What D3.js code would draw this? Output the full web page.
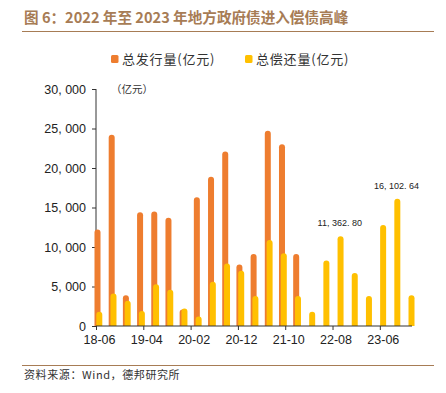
<!DOCTYPE html>
<html>
<head>
<meta charset="utf-8">
<script src="https://cdn.jsdelivr.net/npm/d3@7"></script>
<style>
body{margin:0;background:#fff;}
svg text{font-family:"Liberation Sans",Arial,sans-serif;}
.cjk{font-family:"Noto Sans CJK SC",sans-serif;}
</style>
</head>
<body>
<svg id="chart" width="446" height="393"></svg>
<script>
// quarterly data, 2018-06 .. 2023-12
const quarters=["18-06","18-09","18-12","19-03","19-06","19-09","19-12","20-03","20-06","20-09","20-12","21-03","21-06","21-09","21-12","22-03","22-06","22-09","22-12","23-03","23-06","23-09","23-12"];
const issue=[12200,24200,3900,14400,14500,13700,2100,16300,18900,22100,7800,9100,24700,23000,9100,null,null,null,null,null,null,null,null];
const repay=[1800,4100,3200,1900,5300,4600,2200,1200,5600,7900,7000,3800,10900,9200,3800,1800,8300,11362.80,6700,3800,12800,16102.64,3900];
const tickLabels=["18-06","19-04","20-02","20-12","21-10","22-08","23-06"];
const labelled=[17,21];

const svg=d3.select("#chart");
const brown="#a77c55";

// title
svg.append("text").attr("class","cjk").attr("x",24).attr("y",23)
  .attr("font-size",14.6).attr("font-weight","bold").attr("fill",brown)
  .text("图 6：2022 年至 2023 年地方政府债进入偿债高峰");
svg.append("line").attr("x1",22).attr("x2",434).attr("y1",31.5).attr("y2",31.5)
  .attr("stroke",brown).attr("stroke-width",1);

// month index from 2018-06
const monthIdx=s=>{const [y,m]=s.split("-").map(Number);return (y-18)*12+(m-6);};

const x=d3.scaleLinear().domain([0,66.8]).range([96,412]);
const y=d3.scaleLinear().domain([0,30000]).range([326,89]);

// y axis
const yAxis=svg.append("g").attr("transform","translate(96,0)")
  .call(d3.axisLeft(y).tickValues(d3.range(0,30001,5000)).tickSize(4).tickPadding(6)
    .tickFormat(d=>d3.format(",")(d).replace(",",", ")));
yAxis.selectAll("text").attr("font-size",12.5).attr("fill","#222");
yAxis.selectAll("line,path").attr("stroke","#333");
yAxis.select(".domain").attr("d","M0,"+y(0)+"V"+y(30000));

const orange="#ee7d2f", yellow="#ffc000", bw=6;
const barPath=(cx,v)=>{
  const x0=cx-bw/2, x1=cx+bw/2, y0=y(0), yt=y(v), r=bw/2;
  return "M"+x0+","+y0+"V"+(yt+r)+"A"+r+","+r+" 0 0 1 "+x1+","+(yt+r)+"V"+y0+"Z";
};

svg.append("g").selectAll("path").data(quarters.map((q,i)=>({q,v:issue[i]})).filter(d=>d.v!=null))
  .join("path").attr("d",d=>barPath(x(monthIdx(d.q))+1.5,d.v)).attr("fill",orange);
svg.append("g").selectAll("path").data(quarters.map((q,i)=>({q,v:repay[i]})))
  .join("path").attr("d",d=>barPath(x(monthIdx(d.q))+3.3,d.v)).attr("fill",yellow);

// x axis
const xAxis=svg.append("g").attr("transform","translate(0,326)")
  .call(d3.axisBottom(x).tickValues(tickLabels.map(monthIdx)).tickSize(4).tickPadding(5)
    .tickFormat((d,i)=>tickLabels[i]));
xAxis.selectAll("text").attr("font-size",12.5).attr("fill","#222").attr("dx",3);
xAxis.selectAll("line").attr("stroke","#333");
xAxis.select(".domain").attr("stroke","#333").attr("d","M"+x(0)+",0H"+x(66.8));

// data labels
svg.append("g").selectAll("text").data(labelled).join("text")
  .attr("x",i=>x(monthIdx(quarters[i]))+2.5).attr("y",i=>y(repay[i])-10)
  .attr("text-anchor","middle").attr("font-size",9).attr("fill","#222")
  .text(i=>d3.format(",.2f")(repay[i]).replace(",",", ").replace(".",". "));

// unit
svg.append("text").attr("class","cjk").attr("x",111).attr("y",93).attr("font-size",10.5).attr("fill","#333").text("（亿元）");

// legend
const legend=[{name:"总发行量(亿元)",c:orange,x:111},{name:"总偿还量(亿元)",c:yellow,x:245}];
const lg=svg.append("g").selectAll("g").data(legend).join("g").attr("transform",d=>"translate("+d.x+",55)");
lg.append("rect").attr("width",7.5).attr("height",8).attr("rx",1.5).attr("fill",d=>d.c);
lg.append("text").attr("class","cjk").attr("x",11).attr("y",9).attr("font-size",13).attr("letter-spacing",0.8).attr("fill","#333").text(d=>d.name);

// footer
svg.append("line").attr("x1",22).attr("x2",434).attr("y1",365.5).attr("y2",365.5).attr("stroke",brown).attr("stroke-width",1);
svg.append("text").attr("class","cjk").attr("x",24).attr("y",379).attr("font-size",11).attr("letter-spacing",0.6).attr("fill","#333").text("资料来源：Wind，德邦研究所");
</script>
</body>
</html>
